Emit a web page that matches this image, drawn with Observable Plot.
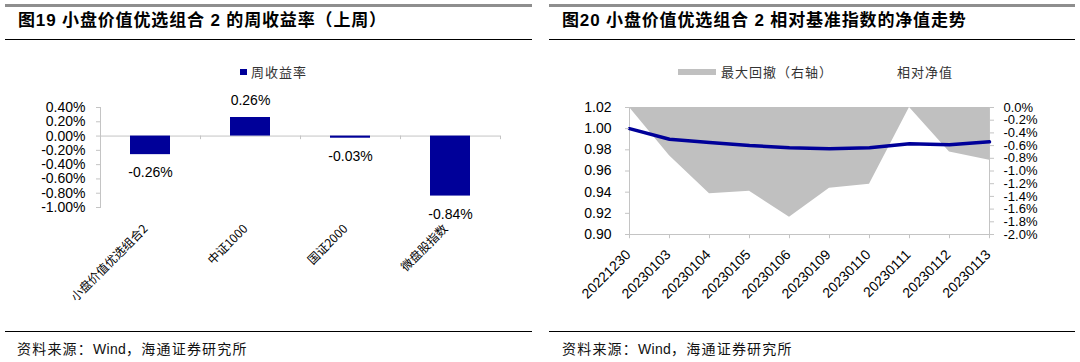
<!DOCTYPE html>
<html><head><meta charset="utf-8">
<script src="https://cdn.jsdelivr.net/npm/d3@7"></script>
<script src="https://cdn.jsdelivr.net/npm/@observablehq/plot@0.6"></script>
<style>
body{margin:0;width:1080px;height:362px;position:relative;background:#fff;font-family:"Liberation Sans","Noto Sans CJK SC",sans-serif;overflow:hidden}
.abs{position:absolute}
.gray{height:2.5px;background:#8e8e8e;top:4px}
.black{height:1.3px;background:#000;}
.title{font-weight:bold;font-size:17px;letter-spacing:0.85px;top:11px;line-height:20px;white-space:nowrap;color:#000}
.src{font-family:"Noto Sans CJK SC",sans-serif;font-size:14px;letter-spacing:1.2px;top:339px;line-height:18px;white-space:nowrap;color:#111}
.src span{font-family:"Liberation Sans",sans-serif;letter-spacing:0.3px}
.leg{font-family:"Noto Sans CJK SC",sans-serif;font-size:13px;letter-spacing:1px;line-height:16px;top:64px;white-space:nowrap;color:#333}
</style></head>
<body>
<div class="abs gray" style="left:5px;width:527px"></div>
<div class="abs gray" style="left:549px;width:526px"></div>
<div class="abs title" style="left:18px">图19 小盘价值优选组合 2 的周收益率（上周）</div>
<div class="abs title" style="left:562px">图20 小盘价值优选组合 2 相对基准指数的净值走势</div>
<div class="abs black" style="left:5px;width:527px;top:39px"></div>
<div class="abs black" style="left:549px;width:526px;top:39px"></div>
<div class="abs black" style="left:5px;width:527px;top:331px"></div>
<div class="abs black" style="left:549px;width:526px;top:331px"></div>
<div class="abs src" style="left:17px">资料来源：<span>Wind</span>，海通证券研究所</div>
<div class="abs src" style="left:562px">资料来源：<span>Wind</span>，海通证券研究所</div>
<div class="abs" style="left:240px;top:69px;width:7px;height:6px;background:#000099"></div>
<div class="abs leg" style="left:251px">周收益率</div>
<div class="abs" style="left:678px;top:69px;width:38px;height:6px;background:#c0c0c0"></div>
<div class="abs leg" style="left:721px">最大回撤（右轴）</div>
<div class="abs leg" style="left:897px">相对净值</div>
<div id="c1" class="abs" style="left:0;top:45px"></div>
<div id="c2" class="abs" style="left:540px;top:45px"></div>
<script>
// ---- Chart 1 data ----
const barCategories = ["小盘价值优选组合2", "中证1000", "国证2000", "微盘股指数"];
const barValues = [-0.0026, 0.0026, -0.0003, -0.0084];
const barTicks = [-0.010, -0.008, -0.006, -0.004, -0.002, 0, 0.002, 0.004];

// ---- Chart 2 data ----
const dates = ["20221230","20230103","20230104","20230105","20230106","20230109","20230110","20230111","20230112","20230113"];
const navValues = [1.000, 0.990, 0.987, 0.984, 0.982, 0.981, 0.982, 0.9857, 0.9847, 0.9876];
const drawdownValues = [0, -0.0076, -0.0136, -0.0132, -0.0173, -0.0127, -0.0121, 0, -0.0070, -0.0083];
const navTicks = [0.90, 0.92, 0.94, 0.96, 0.98, 1.00, 1.02];
const ddTicks = [0, -0.002, -0.004, -0.006, -0.008, -0.010, -0.012, -0.014, -0.016, -0.018, -0.020];

const axisGray = "#c4c4c4";
const barBlue = "#000099";

// ---- Chart 1 ----
const bars = barCategories.map((c, i) => ({cat: c, value: barValues[i]}));
const W1 = 540, ML1 = 100, MR1 = 40;
const padIn = 0.6, padOut = 0.3;
const step1 = (W1 - ML1 - MR1) / (barCategories.length - padIn + 2 * padOut);
const pct2 = v => (v * 100).toFixed(2) + "%";

const chart1 = Plot.plot({
  width: W1, height: 280,
  marginLeft: ML1, marginRight: MR1, marginTop: 62, marginBottom: 118,
  style: {fontFamily: "Liberation Sans, Arial, sans-serif", fontSize: "14px", background: "transparent"},
  x: {domain: barCategories, paddingInner: padIn, paddingOuter: padOut, axis: null},
  y: {domain: [-0.010, 0.004], axis: null},
  marks: [
    Plot.frame({anchor: "left", stroke: axisGray}),
    Plot.ruleY([0], {stroke: axisGray}),
    Plot.ruleX(barCategories, {x: d => d, dx: step1 / 2, y1: 0, y2: -0.0005, stroke: axisGray}),
    Plot.barY(bars, {x: "cat", y: "value", fill: barBlue}),
    Plot.axisY({ticks: barTicks, tickFormat: pct2, tickSize: 4, tickPadding: 11, stroke: axisGray, fill: "#000", fontSize: 14, label: null}),
    Plot.text(bars.filter(d => d.value >= 0), {x: "cat", y: "value", text: d => pct2(d.value), dy: -17, fontSize: 14, fill: "#000"}),
    Plot.text(bars.filter(d => d.value < 0), {x: "cat", y: "value", text: d => pct2(d.value), dy: 18, fontSize: 14, fill: "#000"}),
    Plot.text(barCategories, {x: d => d, frameAnchor: "bottom", rotate: -45, textAnchor: "end", dy: 22, dx: -2, fontSize: 12, fontFamily: "Noto Sans CJK SC, sans-serif", fill: "#000"})
  ]
});
document.getElementById("c1").appendChild(chart1);

// ---- Chart 2 ----
const yTop = 1.02, yBot = 0.90, ddMin = -0.020;
const ddToY = v => yTop + (v / -ddMin) * (yTop - yBot);
const rows = dates.map((d, i) => ({date: d, nav: navValues[i], dd: drawdownValues[i]}));
const ddLabel = d => {
  const p = Math.round((d - yTop) / (yTop - yBot) * -ddMin * 1000) / 10;
  return (p === 0 ? 0 : p).toFixed(1) + "%";
};

const chart2 = Plot.plot({
  width: 540, height: 280,
  marginLeft: 89, marginRight: 91, marginTop: 62, marginBottom: 91,
  style: {fontFamily: "Liberation Sans, Arial, sans-serif", fontSize: "14px", background: "transparent"},
  x: {type: "point", domain: dates, padding: 0, axis: null},
  y: {domain: [yBot, yTop], axis: null},
  marks: [
    Plot.areaY(rows, {x: "date", y1: () => ddToY(0), y2: d => ddToY(d.dd), fill: "#c0c0c0", curve: "linear"}),
    Plot.frame({anchor: "left", stroke: axisGray}),
    Plot.frame({anchor: "right", stroke: axisGray}),
    Plot.frame({anchor: "bottom", stroke: axisGray}),
    Plot.ruleX(dates, {x: d => d, y1: yBot, y2: yBot - 0.004, stroke: axisGray}),
    Plot.line(rows, {x: "date", y: "nav", stroke: barBlue, strokeWidth: 3.5, curve: "linear"}),
    Plot.axisY({ticks: navTicks, tickFormat: d3.format(".2f"), tickSize: 4, tickPadding: 14, stroke: axisGray, fill: "#000", fontSize: 14, label: null}),
    Plot.axisY({anchor: "right", ticks: ddTicks.map(ddToY), tickFormat: ddLabel, tickSize: 4, tickPadding: 10, stroke: axisGray, fill: "#000", fontSize: 13, label: null}),
    Plot.text(dates, {x: d => d, frameAnchor: "bottom", rotate: -45, textAnchor: "end", dy: 21, dx: 2, fontSize: 14, fill: "#000"})
  ]
});
document.getElementById("c2").appendChild(chart2);
</script>
</body></html>
